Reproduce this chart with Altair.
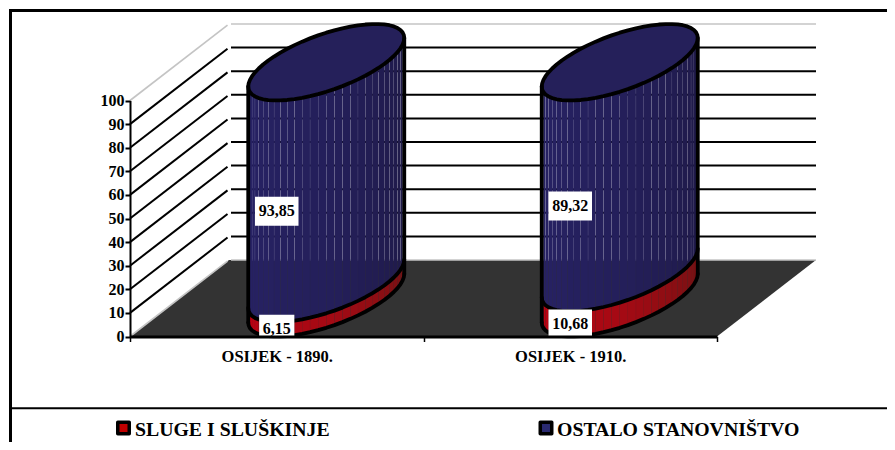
import math
import altair as alt
import pandas as pd

# ---- values ----
categories = ["OSIJEK - 1890.", "OSIJEK - 1910."]
series_names = ["SLUGE I SLUŠKINJE", "OSTALO STANOVNIŠTVO"]
servants = [6.15, 10.68]
others = [93.85, 89.32]
servants_text = ["6,15", "10,68"]
others_text = ["93,85", "89,32"]
y_ticks = [0, 10, 20, 30, 40, 50, 60, 70, 80, 90, 100]

# ---- 3-D projection used to place the values on the page ----
W, H = 879, 434
X0, Y0 = 122.0, 328.5     # origin of value axis (chart pixels)
K = 2.36                  # px per value unit
DX, DY = 99.0, 76.5       # depth vector
CATW = 293.5
A, B = 60.3, 0.5
R = math.hypot(A, B * DX)
PHI = math.atan2(B * DX, A)
FONT = "Liberation Serif"
STEP = 6
GAP = 0.12


def proj(c, v, d):
    return X0 + c * CATW + d * DX, Y0 - v * K - d * DY


def disk(i, v, u_deg):
    cx, cy = proj(i + 0.5, v, 0.5)
    t = math.radians(u_deg) + PHI
    return cx + A * math.cos(t) + B * DX * math.sin(t), cy - B * DY * math.sin(t)


def mix(stops, s):
    p = s * (len(stops) - 1)
    j = min(int(p), len(stops) - 2)
    f = p - j
    c0 = [int(stops[j][k:k + 2], 16) for k in (1, 3, 5)]
    c1 = [int(stops[j + 1][k:k + 2], 16) for k in (1, 3, 5)]
    return "#%02x%02x%02x" % tuple(round(a + (b - a) * f) for a, b in zip(c0, c1))


pxx = alt.Scale(domain=[0, W], range=[0, W], nice=False, zero=False)
pxy = alt.Scale(domain=[0, H], range=[0, H], nice=False, zero=False)
X = alt.X("x:Q", scale=pxx, axis=None)
Y = alt.Y("y:Q", scale=pxy, axis=None, stack=None)
Y2 = alt.Y2("y2:Q")

# walls / floor
a, b, c, d_ = proj(0, 0, 0), proj(2, 0, 0), proj(2, 0, 1), proj(0, 0, 1)
floor_pts = [
    dict(x=a[0], y=a[1], y2=a[1]),
    dict(x=d_[0], y=a[1], y2=d_[1]),
    dict(x=b[0], y=b[1], y2=c[1]),
    dict(x=c[0], y=c[1], y2=c[1]),
]
floor = alt.Chart(pd.DataFrame(floor_pts)).mark_area(orient="vertical", color="#333333").encode(x=X, y=Y, y2=Y2)

grid_rows, edge_rows = [], []
for v in y_ticks:
    side0, side1 = proj(0, v, 0), proj(0, v, 0.985)
    back0, back1 = proj(0, v, 1), proj(2, v, 1)
    segs = [[side0, side1], [(back0[0] + 2, back0[1]), back1]]
    for j, seg in enumerate(segs):
        for n, p in enumerate(seg):
            row = dict(x=p[0], y=p[1], g=f"{v}-{j}", i=n)
            if v == 100 or v == 0:
                edge_rows.append(row)
            else:
                grid_rows.append(row)
edges = alt.Chart(pd.DataFrame(edge_rows)).mark_line(color="#c4c4c4", strokeWidth=1.6).encode(
    x=X, y=Y, detail="g:N", order="i:Q")
grid = alt.Chart(pd.DataFrame(grid_rows)).mark_line(color="#000000", strokeWidth=2).encode(
    x=X, y=Y, detail="g:N", order="i:Q")

BLUE_STOPS = ["#272265", "#241f5a", "#1e1946"]
RED_STOPS = ["#c00010", "#a40a14", "#6c1212"]

# cylinder strips
strip_rows, outline_rows, top_rows = [], [], []
for i in range(2):
    v1, v2 = servants[i], servants[i] + others[i]
    for u in range(180, 360, STEP):
        for lo, hi, stops, nm in ((0, v1, RED_STOPS, "r"), (v1, v2, BLUE_STOPS, "b")):
            p0b, p1b = disk(i, lo, u), disk(i, lo, u + STEP)
            p0t, p1t = disk(i, hi, u), disk(i, hi, u + STEP)
            s = f"{nm}{i}-{u}"
            col = mix(stops, (u - 180) / 180)
            strip_rows.append(dict(x=p0b[0] + GAP / 2, y=p0b[1], y2=p0t[1], s=s, col=col))
            strip_rows.append(dict(x=p1b[0] - GAP / 2, y=p1b[1], y2=p1t[1], s=s, col=col))
    # top disk
    for u in range(180, 361, STEP):
        f = disk(i, v2, u)
        bk = disk(i, v2, 360 - u)
        top_rows.append(dict(x=f[0], y=f[1], y2=bk[1], s=i))
    # outlines
    n = 0
    for v in (0, v1):
        for u in range(180, 361, STEP):
            p = disk(i, v, u)
            outline_rows.append(dict(x=p[0], y=p[1], g=f"{i}-arc-{v}", i=n))
            n += 1
    for u in (180, 360):
        for m, v in enumerate((0, v2)):
            p = disk(i, v, u)
            outline_rows.append(dict(x=p[0], y=p[1], g=f"{i}-side-{u}", i=m))
    for n, u in enumerate(range(0, 361, STEP)):
        p = disk(i, v2, u)
        outline_rows.append(dict(x=p[0], y=p[1], g=f"{i}-top", i=n))

strips = alt.Chart(pd.DataFrame(strip_rows)).mark_area(orient="vertical").encode(
    x=X, y=Y, y2=Y2, detail="s:N", color=alt.Color("col:N", scale=None, legend=None))
top = alt.Chart(pd.DataFrame(top_rows)).mark_area(orient="vertical", color="#25205a").encode(
    x=X, y=Y, y2=Y2, detail="s:N")
outline = alt.Chart(pd.DataFrame(outline_rows)).mark_line(
    color="#000000", strokeWidth=3.8, strokeCap="round", strokeJoin="round").encode(
    x=X, y=Y, detail="g:N", order="i:Q")

# data labels
lab_rows = []
for i in range(2):
    for lo, val, txt in ((0, servants[i], servants_text[i]), (servants[i], others[i], others_text[i])):
        px, py = proj(i + 0.5, lo + val / 2, 0)
        hw = 3 + 3.65 * len(txt) + (0.5 if len(txt) == 5 else 0)
        lab_rows.append(dict(x=px - hw, x2=px + hw, y=py - 14.5, y2=min(py + 14.5, Y0),
                             tx=px, ty=py, label=txt))
labels_df = pd.DataFrame(lab_rows)
boxes = alt.Chart(labels_df).mark_rect(color="#ffffff").encode(
    x=X, x2=alt.X2("x2:Q"), y=alt.Y("y:Q", scale=pxy, axis=None), y2=Y2)
label_text = alt.Chart(labels_df).mark_text(
    font=FONT, fontWeight="bold", fontSize=16, color="#000000", baseline="middle", align="center").encode(
    x=alt.X("tx:Q", scale=pxx, axis=None), y=alt.Y("ty:Q", scale=pxy, axis=None), text="label:N")

# frame
frame = [
    alt.Chart().mark_rule(color="#000", strokeWidth=3).encode(x=alt.value(1), x2=alt.value(W), y=alt.value(2.5)),
    alt.Chart().mark_rule(color="#000", strokeWidth=3).encode(x=alt.value(2.5), y=alt.value(1), y2=alt.value(H)),
    alt.Chart().mark_rule(color="#000", strokeWidth=2).encode(x=alt.value(2.5), x2=alt.value(W), y=alt.value(400.3)),
]

# legend
leg = pd.DataFrame({
    "name": series_names,
    "col": ["#c00000", "#2a2a70"],
    "sx": [115.5, 538],
    "tx": [127, 549],
    "ly": [420, 420],
    "ty": [422, 422],
})
leg_sym = alt.Chart(leg).mark_point(shape="square", filled=True, size=132, stroke="#000000",
                                    strokeWidth=3.5, strokeJoin="round", opacity=1).encode(
    x=alt.X("sx:Q", scale=pxx, axis=None), y=alt.Y("ly:Q", scale=pxy, axis=None),
    fill=alt.Fill("col:N", scale=None))
leg_txt = alt.Chart(leg).mark_text(font=FONT, fontWeight="bold", fontSize=19.8, align="left",
                                   baseline="middle", color="#000000").encode(
    x=alt.X("tx:Q", scale=pxx, axis=None), y=alt.Y("ty:Q", scale=pxy, axis=None), text="name:N")

pixel_layer = alt.layer(floor, edges, grid, strips, top, outline, boxes, label_text, *frame, leg_sym, leg_txt)

# real axes
axis_df = pd.DataFrame({"cat": categories, "v": servants})
axes = alt.Chart(axis_df).mark_point(opacity=0).encode(
    x=alt.X("cat:N", sort=categories, title=None,
            scale=alt.Scale(domain=categories, range=[X0, X0 + 2 * CATW], paddingInner=0, paddingOuter=0),
            axis=alt.Axis(orient="bottom", offset=-(H - Y0), labelAngle=0, tickBand="extent",
                          domainColor="#000", domainWidth=3, tickColor="#000", tickWidth=1.5, tickSize=5,
                          labelFont=FONT, labelFontWeight="bold", labelFontSize=16.5, labelColor="#000",
                          labelPadding=7, zindex=1, grid=False)),
    y=alt.Y("v:Q", title=None,
            scale=alt.Scale(domain=[0, 100], range=[Y0, Y0 - 100 * K], nice=False),
            axis=alt.Axis(orient="left", offset=-X0, values=y_ticks, domainColor="#000", domainWidth=2,
                          tickColor="#000", tickWidth=2, tickSize=5, labelFont=FONT, labelFontWeight="bold",
                          labelFontSize=16, labelColor="#000", labelPadding=1, grid=False, zindex=1,
                          labelOverlap=False)),
)

chart = alt.layer(pixel_layer, axes).resolve_scale(x="independent", y="independent").properties(
    width=W, height=H, padding=0, autosize=alt.AutoSizeParams(type="none"),
    background="#ffffff").configure_view(stroke=None)

chart.save("out.html", embed_options={"renderer": "svg", "actions": False})
